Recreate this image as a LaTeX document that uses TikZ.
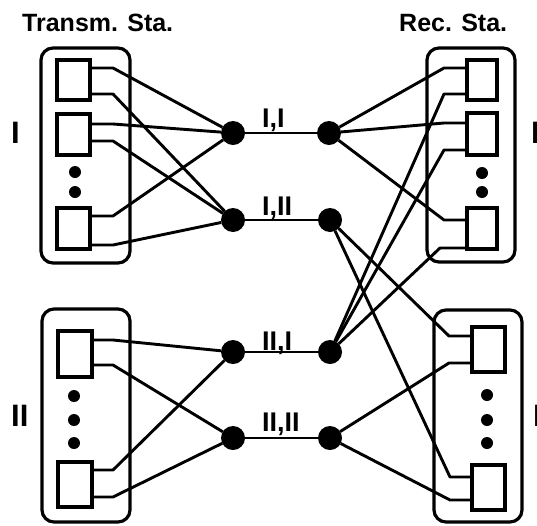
\documentclass[tikz,border=0pt]{standalone}
\usepackage{fontspec}
\setmainfont{Liberation Sans}
\begin{document}
\begin{tikzpicture}[x=1pt,y=-1pt,
  conn/.style={line width=2.9pt,line join=round},
  unitbox/.style={draw,line width=3.4pt,inner sep=0pt,outer sep=0pt,fill=white},
  stabox/.style={draw,line width=3.2pt,rounded corners=12pt,inner sep=0pt,outer sep=0pt},
  jdot/.style={circle,fill=black,minimum size=24pt,inner sep=0pt,outer sep=0pt},
  sdot/.style={circle,fill=black,minimum size=12pt,inner sep=0pt},
  lab/.style={inner sep=0pt,font=\fontsize{27}{27}\selectfont\bfseries,anchor=base west},
  sidelab/.style={inner sep=0pt,font=\fontsize{31}{31}\selectfont\bfseries,anchor=base west}]
\useasboundingbox (0,0) rectangle (537,525);

% station boxes
\node[stabox,minimum width=89pt,minimum height=215pt] (boxA) at (85.5,155.5) {};
\node[stabox,minimum width=88pt,minimum height=213pt] (boxB) at (86,415.5) {};
\node[stabox,minimum width=88pt,minimum height=214pt] (boxC) at (471,155) {};
\node[stabox,minimum width=88pt,minimum height=212pt] (boxD) at (478,416) {};

% unit rectangles
\node[unitbox,minimum width=33pt,minimum height=40pt] (a1) at (73.5,80) {};
\node[unitbox,minimum width=33pt,minimum height=41pt] (a2) at (73.5,134.5) {};
\node[unitbox,minimum width=33pt,minimum height=41pt] (a3) at (73.5,228.5) {};
\node[unitbox,minimum width=34pt,minimum height=46pt] (b1) at (75,354) {};
\node[unitbox,minimum width=34pt,minimum height=45pt] (b3) at (75,484.5) {};
\node[unitbox,minimum width=30pt,minimum height=40pt] (c1) at (482,80) {};
\node[unitbox,minimum width=30pt,minimum height=42pt] (c2) at (482,134) {};
\node[unitbox,minimum width=30pt,minimum height=41pt] (c3) at (482,228.5) {};
\node[unitbox,minimum width=33pt,minimum height=45pt] (d1) at (488.5,349.5) {};
\node[unitbox,minimum width=33pt,minimum height=45pt] (d3) at (488.5,487.5) {};

% small dots
\node[sdot] (ea) at (75,172) {};
\node[sdot] (eb) at (75,192) {};
\node[sdot] (fa) at (74,396) {};
\node[sdot] (fb) at (74,420) {};
\node[sdot] (fc) at (74,443) {};
\node[sdot] (ga) at (482,173) {};
\node[sdot] (gb) at (482,192) {};
\node[sdot] (ha) at (487,395) {};
\node[sdot] (hb) at (487,420) {};
\node[sdot] (hc) at (487,443) {};

% junctions
\node[jdot] (L11) at (233,133) {};
\node[jdot] (R11) at (329,133) {};
\node[jdot] (L12) at (233,220) {};
\node[jdot] (R12) at (330,220) {};
\node[jdot] (L21) at (233,352) {};
\node[jdot] (R21) at (330,352) {};
\node[jdot] (L22) at (233,438) {};
\node[jdot] (R22) at (330,438) {};

% lead bend points
\coordinate (a1u) at (113,68);  \coordinate (a1d) at (113,94);
\coordinate (a2u) at (113,124); \coordinate (a2d) at (113,141);
\coordinate (a3u) at (113,216); \coordinate (a3d) at (113,245);
\coordinate (b1u) at (113,340); \coordinate (b1d) at (113,365);
\coordinate (b3u) at (113,470); \coordinate (b3d) at (113,497);
\coordinate (c1u) at (444,68);  \coordinate (c1d) at (444,94);
\coordinate (c2u) at (444,123); \coordinate (c2d) at (444,150);
\coordinate (c3u) at (444,220); \coordinate (c3d) at (440,248);
\coordinate (d1u) at (449,336); \coordinate (d1d) at (449,363);
\coordinate (d3u) at (450,477); \coordinate (d3d) at (450,500);

% horizontal links
\draw[conn] (L11) -- (R11);
\draw[conn] (L12) -- (R12);
\draw[conn] (L21) -- (R21);
\draw[conn] (L22) -- (R22);

% transmitting station I
\draw[conn] (a1.east |- a1u) -- (a1u) -- (L11);
\draw[conn] (a1.east |- a1d) -- (a1d) -- (L12);
\draw[conn] (a2.east |- a2u) -- (a2u) -- (L11);
\draw[conn] (a2.east |- a2d) -- (a2d) -- (L12);
\draw[conn] (a3.east |- a3u) -- (a3u) -- (L11);
\draw[conn] (a3.east |- a3d) -- (a3d) -- (L12);
% transmitting station II
\draw[conn] (b1.east |- b1u) -- (b1u) -- (L21);
\draw[conn] (b1.east |- b1d) -- (b1d) -- (L22);
\draw[conn] (b3.east |- b3u) -- (b3u) -- (L21);
\draw[conn] (b3.east |- b3d) -- (b3d) -- (L22);
% receiving station I
\draw[conn] (c1.west |- c1u) -- (c1u) -- (R11);
\draw[conn] (c2.west |- c2u) -- (c2u) -- (R11);
\draw[conn] (c3.west |- c3u) -- (c3u) -- (R11);
\draw[conn] (c1.west |- c1d) -- (c1d) -- (R21);
\draw[conn] (c2.west |- c2d) -- (c2d) -- (R21);
\draw[conn] (c3.west |- c3d) -- (c3d) -- (R21);
% receiving station II
\draw[conn] (d1.west |- d1u) -- (d1u) -- (R12);
\draw[conn] (d3.west |- d3u) -- (d3u) -- (R12);
\draw[conn] (d1.west |- d1d) -- (d1d) -- (R22);
\draw[conn] (d3.west |- d3d) -- (d3d) -- (R22);

% labels
\node[lab] (tI1) at (262,127) {I,I};
\node[lab] (tI2) at (262,215) {I,II};
\node[lab] (tI3) at (262,350) {II,I};
\node[lab] (tI4) at (262,431) {II,II};
\node[lab,font=\fontsize{25}{25}\selectfont\bfseries] (ts) at (22,31) {Transm. Sta.};
\node[lab,font=\fontsize{25}{25}\selectfont\bfseries] (rs) at (399,31) {Rec. Sta.};
\node[sidelab] (sl1) at (11,143) {I};
\node[sidelab] (sl2) at (11,426) {II};
\node[sidelab] (sr1) at (531,143) {I};
\node[sidelab] (sr2) at (533,426) {II};
\end{tikzpicture}
\end{document}
